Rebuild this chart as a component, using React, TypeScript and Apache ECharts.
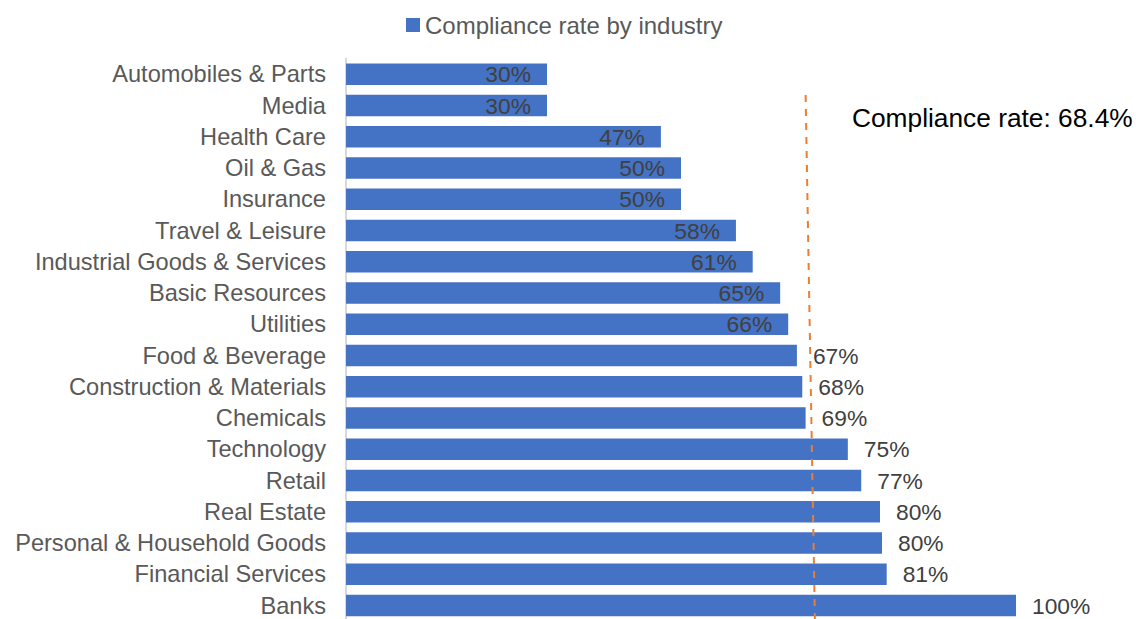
import React, { useEffect, useRef } from "react";
import * as echarts from "echarts";

const categories = [
  "Automobiles & Parts",
  "Media",
  "Health Care",
  "Oil & Gas",
  "Insurance",
  "Travel & Leisure",
  "Industrial Goods & Services",
  "Basic Resources",
  "Utilities",
  "Food & Beverage",
  "Construction & Materials",
  "Chemicals",
  "Technology",
  "Retail",
  "Real Estate",
  "Personal & Household Goods",
  "Financial Services",
  "Banks",
];

const complianceRates = [
  0.3, 0.3, 0.47, 0.5, 0.5, 0.582, 0.607, 0.648, 0.66, 0.673, 0.681, 0.686,
  0.749, 0.769, 0.797, 0.8, 0.807, 1.0,
];

// labels inside the bar for bars left of the average line
const insideLabelCount = 9;

const averageLabel = "Compliance rate: 68.4%";
// reference line end points: [x value, relative height (1 = top, 0 = bottom)]
const refLine = [
  [0.686, 1],
  [0.7, 0],
];

const seriesName = "Compliance rate by industry";

const FONT = "'Liberation Sans', Arial, sans-serif";

export default function App() {
  const ref = useRef<HTMLDivElement>(null);

  useEffect(() => {
    document.body.style.margin = "0";
    if (!ref.current) return;
    const chart = echarts.init(ref.current, undefined, { renderer: "svg" });

    const barData = complianceRates.map((v, i) => ({
      value: v,
      label:
        i < insideLabelCount
          ? { position: "insideRight", distance: 16 }
          : { position: "right", distance: 16 },
    }));

    chart.setOption({
      animation: false,
      textStyle: { fontFamily: FONT },
      legend: {
        data: [seriesName],
        left: 406,
        top: 13,
        padding: 0,
        itemWidth: 14,
        itemHeight: 14,
        itemGap: 4,
        icon: "rect",
        textStyle: { fontSize: 24, color: "#595959", fontFamily: FONT },
      },
      grid: [
        { left: 346, width: 670, top: 58.7, height: 562.5, containLabel: false },
        { left: 346, width: 670, top: 95, height: 530, containLabel: false },
      ],
      xAxis: [
        { type: "value", gridIndex: 0, min: 0, max: 1, show: false },
        { type: "value", gridIndex: 1, min: 0, max: 1, show: false },
      ],
      yAxis: [
        {
          type: "category",
          gridIndex: 0,
          data: categories,
          inverse: true,
          axisLine: { show: true, lineStyle: { color: "#D9D9D9", width: 2 } },
          axisTick: { show: false },
          axisLabel: {
            interval: 0,
            fontSize: 23.6,
            lineHeight: 20,
            color: "#595959",
            margin: 20,
            fontFamily: FONT,
          },
          splitLine: { show: false },
        },
        { type: "value", gridIndex: 1, min: 0, max: 1, show: false },
      ],
      series: [
        {
          name: seriesName,
          type: "bar",
          xAxisIndex: 0,
          yAxisIndex: 0,
          data: barData,
          barCategoryGap: "31%",
          itemStyle: { color: "#4472C4" },
          label: {
            show: true,
            fontSize: 22.8,
            lineHeight: 20,
            color: "#404040",
            fontFamily: FONT,
            formatter: (p: any) => Math.round(p.value * 100) + "%",
          },
        },
        {
          name: "Average",
          type: "line",
          xAxisIndex: 1,
          yAxisIndex: 1,
          data: refLine,
          symbol: "none",
          lineStyle: { color: "#ED7D31", width: 2, type: [7, 7] },
          silent: true,
        },
      ],
      graphic: [
        {
          type: "text",
          x: 852,
          y: 118,
          style: {
            text: averageLabel,
            fontSize: 26.3,
            fontFamily: FONT,
            fill: "#000000",
            textVerticalAlign: "middle",
          },
        },
      ],
    });

    return () => chart.dispose();
  }, []);

  return (
    <div style={{ width: 1136, height: 619, overflow: "hidden", position: "relative" }}>
      <div ref={ref} style={{ width: 1136, height: 640 }} />
    </div>
  );
}
